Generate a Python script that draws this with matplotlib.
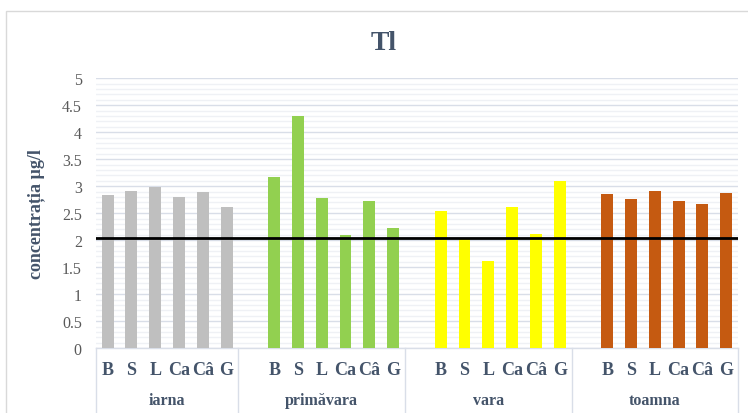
import numpy as np
import matplotlib.pyplot as plt
from matplotlib.patches import Rectangle
from matplotlib.transforms import blended_transform_factory

plt.rcParams['font.family'] = ['Liberation Serif', 'DejaVu Serif']

seasons = ['iarna', 'primăvara', 'vara', 'toamna']
sites = ['B', 'S', 'L', 'Ca', 'Câ', 'G']
iarna = [2.83, 2.92, 2.99, 2.80, 2.89, 2.62]
primavara = [3.17, 4.30, 2.78, 2.10, 2.72, 2.22]
vara = [2.54, 2.02, 1.62, 2.62, 2.11, 3.09]
toamna = [2.86, 2.76, 2.92, 2.73, 2.67, 2.88]
limit = 2.05

values = [iarna, primavara, vara, toamna]
colors = ['#bfbfbf', '#92d050', '#ffff00', '#c55a11']
text_col = '#44546a'
grid_major = '#d9dee8'
grid_minor = '#eff1f5'

fig = plt.figure(figsize=(7.48, 4.14), dpi=100)
ax = fig.add_axes([0.128, 0.1563, 0.8587, 0.6522])

# outer chart border
fig.patches.append(Rectangle((6 / 748, -0.05), 1.0, 1 - 12 / 414 + 0.05,
                             transform=fig.transFigure, fill=False,
                             edgecolor='#d9d9d9', linewidth=1.0))

# category slots: a blank slot before every season except the first
starts = [0, 7, 14, 21]
bounds = [0, 6, 13, 20, 27]
for g, vals in enumerate(values):
    x = np.arange(len(vals)) + starts[g] + 0.5
    ax.bar(x, vals, width=0.5, color=colors[g], zorder=3)

ax.axhline(limit, color='black', linewidth=2.0, zorder=4)

ax.set_xlim(0, 27)
ax.set_ylim(0, 5)
ax.set_yticks(np.arange(0, 5.01, 0.5))
ax.set_yticklabels(['0', '0.5', '1', '1.5', '2', '2.5', '3', '3.5', '4', '4.5', '5'])
ax.set_yticks(np.arange(0, 5.01, 0.1), minor=True)
ax.grid(axis='y', which='major', color=grid_major, linewidth=1.0, zorder=0)
ax.grid(axis='y', which='minor', color=grid_minor, linewidth=1.0, zorder=0)
ax.tick_params(axis='y', which='both', length=0, pad=10, labelsize=11.5,
               labelcolor='#595959')
ax.set_xticks([])
for s in ['left', 'right', 'top']:
    ax.spines[s].set_visible(False)
ax.spines['bottom'].set_color(grid_major)
ax.spines['bottom'].set_linewidth(1.0)

trans = blended_transform_factory(ax.transData, ax.transAxes)
for b in bounds:
    ax.plot([b, b], [0, -0.3], color=grid_major, linewidth=1.0,
            transform=trans, clip_on=False)
for g, season in enumerate(seasons):
    for i, s in enumerate(sites):
        ax.text(starts[g] + i + 0.5, -0.078, s, transform=trans, ha='center',
                va='center', fontsize=13, fontweight='bold', color=text_col)
    ax.text((bounds[g] + bounds[g + 1]) / 2, -0.193, season, transform=trans,
            ha='center', va='center', fontsize=11.5, fontweight='bold',
            color=text_col)

ax.set_ylabel('concentrația µg/l', fontsize=13, fontweight='bold',
              color=text_col, labelpad=12)
fig.text(384 / 748, 1 - 43 / 414, 'Tl', ha='center', va='center',
         fontsize=20, fontweight='bold', color=text_col)

fig.savefig('out.png', dpi=100)
